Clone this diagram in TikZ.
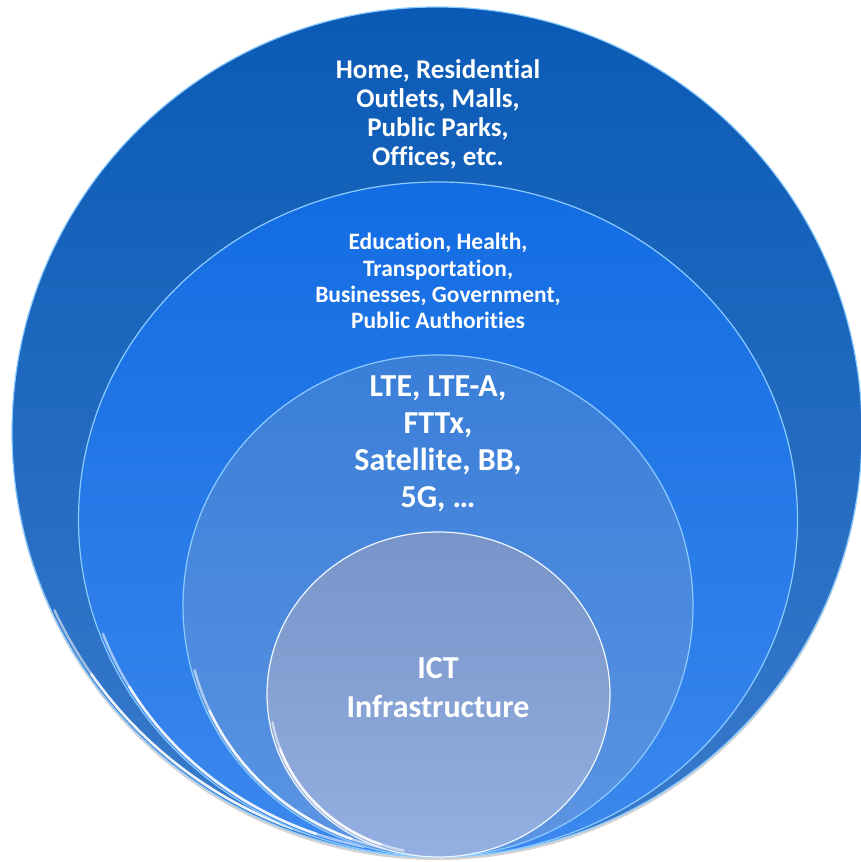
\documentclass[tikz,border=0pt]{standalone}
\usepackage{fontspec}
\setmainfont{Carlito}[Ligatures=NoCommon]
\usetikzlibrary{shadows}
\definecolor{outtop}{HTML}{0A5AB5}
\definecolor{outbot}{HTML}{3A7BCC}
\definecolor{usetop}{HTML}{126CE2}
\definecolor{usebot}{HTML}{3C88EE}
\definecolor{nettop}{HTML}{3A7ED8}
\definecolor{netbot}{HTML}{5C95E3}
\definecolor{icttop}{HTML}{7894C8}
\definecolor{ictbot}{HTML}{94AFE1}
\definecolor{rimblue}{HTML}{8CCBFF}
\tikzset{
  ring/.style={draw=rimblue, line width=1.2pt},
  glow/.style={draw=white, line width=2.5pt, opacity=0.55, line cap=round},
  ringtext/.style={text=white, align=center}
}
\begin{document}
\begin{tikzpicture}
	\useasboundingbox (0,0) rectangle (860pt,862pt);
	%outer ring: places
	\draw[ring, top color=outtop, bottom color=outbot,
		drop shadow={opacity=0.35, shadow xshift=0pt, shadow yshift=-3pt}]
		(437pt,430pt) ellipse (425pt and 425pt);
	\draw[glow] (437pt,430pt) ++(205:422pt and 422pt) arc (205:258:422pt and 422pt);
	\draw[glow, opacity=0.8] (437pt,430pt) ++(215:422pt and 422pt) arc (215:250:422pt and 422pt);
	%second ring: sectors
	\draw[ring, top color=usetop, bottom color=usebot] (438pt,342.5pt) ellipse (359.5pt and 337.5pt);
	\draw[glow] (438pt,342.5pt) ++(200:356.5pt and 334.5pt) arc (200:258:356.5pt and 334.5pt);
	\draw[glow, opacity=0.8] (438pt,342.5pt) ++(210:356.5pt and 334.5pt) arc (210:250:356.5pt and 334.5pt);
	%third ring: technologies
	\draw[ring, top color=nettop, bottom color=netbot] (438pt,256pt) ellipse (255pt and 251pt);
	\draw[glow] (438pt,256pt) ++(195:252pt and 248pt) arc (195:258:252pt and 248pt);
	\draw[glow, opacity=0.8] (438pt,256pt) ++(205:252pt and 248pt) arc (205:250:252pt and 248pt);
	%core
	\draw[ring, draw=white!85!rimblue, top color=icttop, bottom color=ictbot] (438.5pt,167.5pt) ellipse (171.5pt and 162.5pt);
	\draw[glow] (438.5pt,167.5pt) ++(190:168.5pt and 159.5pt) arc (190:258:168.5pt and 159.5pt);
	\draw[glow, opacity=0.8] (438.5pt,167.5pt) ++(200:168.5pt and 159.5pt) arc (200:250:168.5pt and 159.5pt);
	%labels
	\node[ringtext, font=\bfseries\fontsize{27}{29}\selectfont] (places) at (438pt,748pt)
		{Home, Residential\\Outlets, Malls,\\Public Parks,\\Offices, etc.};
	\node[ringtext, font=\bfseries\fontsize{23.5}{26.3}\selectfont] (sectors) at (438pt,581pt)
		{Education, Health,\\Transportation,\\Businesses, Government,\\Public Authorities};
	\node[ringtext, font=\bfseries\fontsize{32}{37}\selectfont] (techs) at (438pt,418pt)
		{LTE, LTE-A,\\FTTx,\\Satellite, BB,\\5G, \dots};
	\node[ringtext, font=\bfseries\fontsize{32}{39}\selectfont] (ict) at (438pt,174pt)
		{ICT\\Infrastructure};
\end{tikzpicture}
\end{document}
